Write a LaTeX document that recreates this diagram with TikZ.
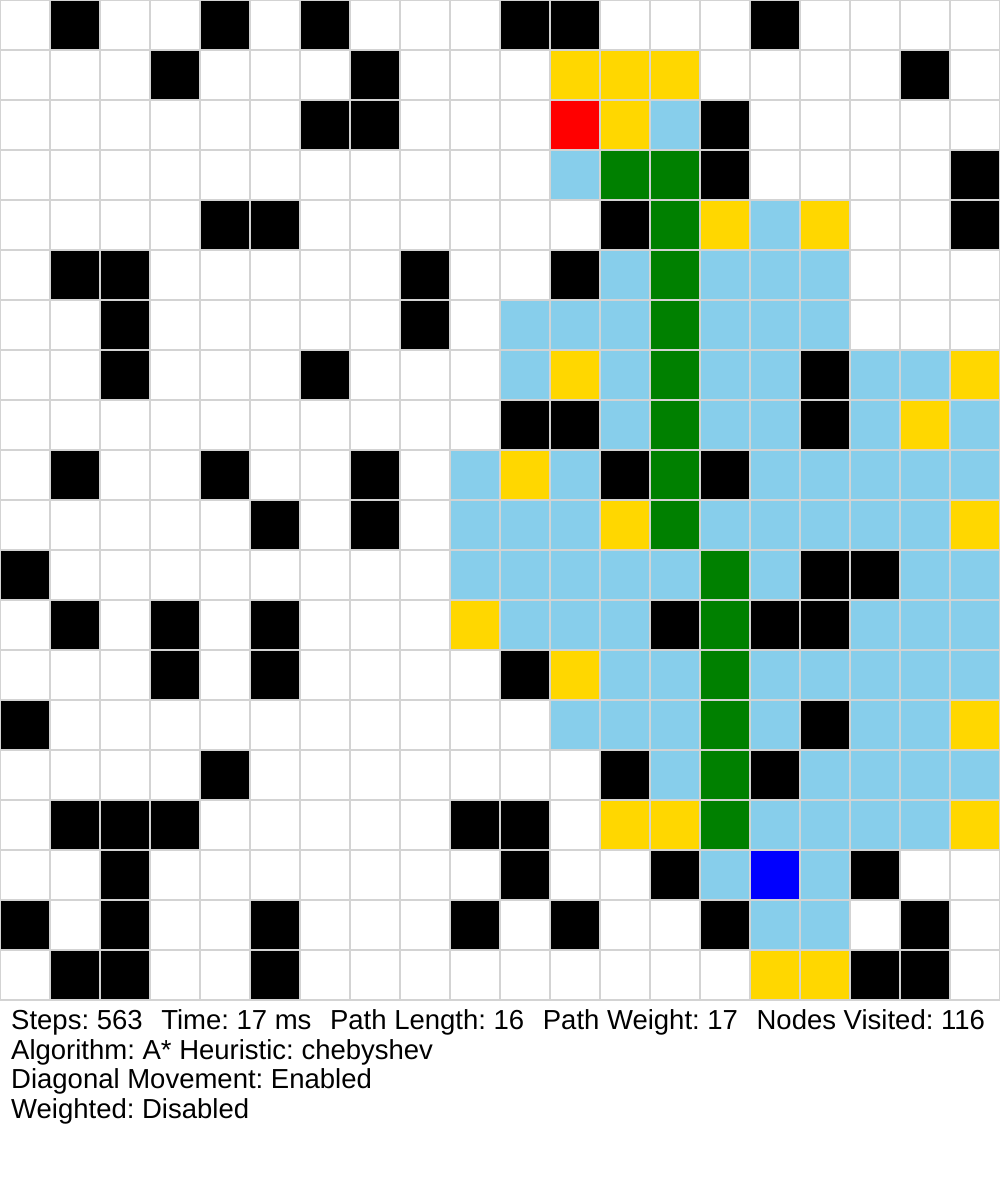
\documentclass[tikz,border=0pt]{standalone}
\usepackage{fontspec}
\setmainfont{Liberation Sans}
\definecolor{visitedc}{HTML}{87CEEB}
\definecolor{frontierc}{HTML}{FFD700}
\definecolor{pathc}{HTML}{008000}
\definecolor{startc}{HTML}{FF0000}
\definecolor{goalc}{HTML}{0000FF}
\definecolor{gridc}{HTML}{D3D3D3}
\frenchspacing
\newcommand{\gapsp}{\hspace{18.6pt}}
\begin{document}
\begin{tikzpicture}[x=1pt,y=-1pt,
  cell/.style={draw=gridc, line width=1.5pt},
  info/.style={anchor=base west, inner sep=0pt, font=\fontsize{27.5}{30}\selectfont}]
\fill[white] (0,0) rectangle (1000,1200);
\useasboundingbox (0,0) rectangle (1000,1200);
\foreach \r in {0,...,19} \foreach \c in {0,...,19}
  \draw[cell, fill=white] (\c*50,\r*50) rectangle +(50,50);
\foreach \c/\r in {1/0,4/0,6/0,10/0,11/0,15/0, 3/1,7/1,18/1, 6/2,7/2,14/2, 14/3,19/3, 4/4,5/4,12/4,19/4, 1/5,2/5,8/5,11/5, 2/6,8/6, 2/7,6/7,16/7, 10/8,11/8,16/8, 1/9,4/9,7/9,12/9,14/9, 5/10,7/10, 0/11,16/11,17/11, 1/12,3/12,5/12,13/12,15/12,16/12, 3/13,5/13,10/13, 0/14,16/14, 4/15,12/15,15/15, 1/16,2/16,3/16,9/16,10/16, 2/17,10/17,13/17,17/17, 0/18,2/18,5/18,9/18,11/18,14/18,18/18, 1/19,2/19,5/19,17/19,18/19}
  \draw[cell, fill=black] (\c*50,\r*50) rectangle +(50,50);
\foreach \c/\r in {11/1,12/1,13/1, 12/2, 14/4,16/4, 11/7,19/7, 18/8, 10/9, 12/10,19/10, 9/12, 11/13, 19/14, 12/16,13/16,19/16, 15/19,16/19}
  \draw[cell, fill=frontierc] (\c*50,\r*50) rectangle +(50,50);
\foreach \c/\r in {12/3,13/3,13/4,13/5,13/6,13/7,13/8,13/9,13/10,14/11,14/12,14/13,14/14,14/15,14/16}
  \draw[cell, fill=pathc] (\c*50,\r*50) rectangle +(50,50);
\foreach \c/\r in {13/2, 11/3, 15/4, 12/5,14/5,15/5,16/5, 10/6,11/6,12/6,14/6,15/6,16/6, 10/7,12/7,14/7,15/7,17/7,18/7, 12/8,14/8,15/8,17/8,19/8, 9/9,11/9,15/9,16/9,17/9,18/9,19/9, 9/10,10/10,11/10,14/10,15/10,16/10,17/10,18/10, 9/11,10/11,11/11,12/11,13/11,15/11,18/11,19/11, 10/12,11/12,12/12,17/12,18/12,19/12, 12/13,13/13,15/13,16/13,17/13,18/13,19/13, 11/14,12/14,13/14,15/14,17/14,18/14, 13/15,16/15,17/15,18/15,19/15, 15/16,16/16,17/16,18/16, 14/17,16/17, 15/18,16/18}
  \draw[cell, fill=visitedc] (\c*50,\r*50) rectangle +(50,50);
\draw[cell, fill=startc] (550,100) rectangle +(50,50);
\draw[cell, fill=goalc] (750,850) rectangle +(50,50);
\node[info] (stats) at (11,1029) {Steps: 563\gapsp Time: 17 ms\gapsp Path Length: 16\gapsp Path Weight: 17\gapsp Nodes Visited: 116};
\node[info] (algo) at (11,1059) {Algorithm: A* Heuristic: chebyshev};
\node[info] (diag) at (11,1088) {Diagonal Movement: Enabled};
\node[info] (weight) at (11,1118) {Weighted: Disabled};
\end{tikzpicture}
\end{document}
